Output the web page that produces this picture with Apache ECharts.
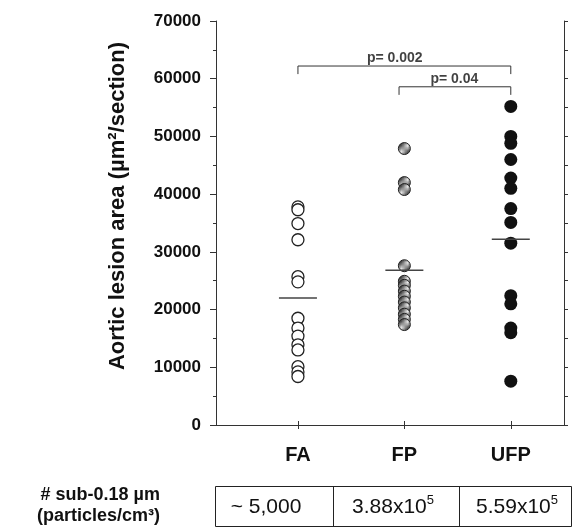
<!DOCTYPE html>
<html>
<head>
<meta charset="utf-8">
<script src="https://cdn.jsdelivr.net/npm/echarts@6/dist/echarts.min.js"></script>
<style>html,body{margin:0;padding:0;background:#fff}#chart{width:572px;height:532px}</style>
</head>
<body>
<div id="chart"></div>
<script>
var groups = ['FA', 'FP', 'UFP'];
var faValues = [37800, 37300, 34900, 32100, 25700, 24800, 18500, 16800, 15400, 13900, 13000, 10100, 9200, 8400];
var fpValues = [47900, 42000, 40800, 27600, 24900, 24200, 23200, 22300, 21300, 20300, 19200, 18300, 17400];
var ufpValues = [55200, 50000, 48800, 46000, 42800, 41000, 37500, 35100, 31500, 22400, 21000, 16800, 16000, 7600];
var groupMeans = [22000, 26800, 32200];
var particleCounts = [['~ 5,000', ''], ['3.88x10', '5'], ['5.59x10', '5']];
// significance brackets: group position from / to, height
var brackets = [
    {from: 1, to: 3, y: 62200, drop: 1400, text: 'p= 0.002', textAt: 1.91},
    {from: 1.95, to: 3, y: 58600, drop: 1400, text: 'p= 0.04', textAt: 2.47}
];

var FONT = '"Liberation Sans", Arial, Helvetica, sans-serif';

function hatchPattern() {
    var c = document.createElement('canvas');
    c.width = 4; c.height = 4;
    var ctx = c.getContext('2d');
    ctx.fillStyle = '#111';
    ctx.fillRect(0, 0, 4, 4);
    ctx.strokeStyle = '#f4f4f4';
    ctx.lineWidth = 1.2;
    ctx.beginPath();
    ctx.moveTo(0, 4); ctx.lineTo(4, 0);
    ctx.moveTo(-1, 1); ctx.lineTo(1, -1);
    ctx.moveTo(3, 5); ctx.lineTo(5, 3);
    ctx.stroke();
    return c;
}
function dotPattern() {
    var c = document.createElement('canvas');
    c.width = 5; c.height = 5;
    var ctx = c.getContext('2d');
    ctx.fillStyle = '#fff';
    ctx.fillRect(0, 0, 5, 5);
    ctx.fillStyle = '#555';
    ctx.fillRect(2, 2, 1, 1);
    return c;
}

function pts(idx, arr) {
    return arr.map(function (v) { return [idx, v]; });
}

var myChart = echarts.init(document.getElementById('chart'));

var bracketSeries = brackets.map(function (b) {
    return {
        type: 'line',
        xAxisIndex: 0, yAxisIndex: 0,
        symbol: 'none',
        silent: true,
        lineStyle: {color: '#333', width: 1},
        data: [[b.from, b.y - b.drop], [b.from, b.y], [b.to, b.y], [b.to, b.y - b.drop]],
        z: 3
    };
});

option = {
    animation: false,
    grid: {left: 216, right: 8, top: 21, bottom: 107},
    xAxis: [{
        type: 'value',
        min: 0.23, max: 3.5,
        position: 'bottom',
        splitLine: {show: false},
        axisLine: {lineStyle: {color: '#333'}},
        axisTick: {show: true, length: 4, customValues: [1, 2, 3], lineStyle: {color: '#333'}},
        axisLabel: {
            customValues: [1, 2, 3],
            margin: 20,
            fontSize: 20, fontWeight: 'bold', color: '#111', fontFamily: FONT,
            formatter: function (v) { return groups[Math.round(v) - 1]; }
        }
    }, {
        type: 'value',
        min: 0.23, max: 3.5,
        position: 'top',
        splitLine: {show: false},
        axisLine: {lineStyle: {color: '#333'}},
        axisTick: {show: true, length: 4, customValues: [1, 2, 3], lineStyle: {color: '#333'}},
        axisLabel: {show: false}
    }],
    yAxis: [{
        type: 'value',
        min: 0, max: 70000, interval: 10000,
        position: 'left',
        splitLine: {show: false},
        axisLine: {show: true, lineStyle: {color: '#333'}},
        axisTick: {show: true, length: 6, lineStyle: {color: '#333'}},
        minorTick: {show: true, splitNumber: 2, length: 3, lineStyle: {color: '#333'}},
        axisLabel: {
            margin: 15, fontSize: 17, fontWeight: 'bold', color: '#111', fontFamily: FONT,
            formatter: function (v) { return String(v); }
        }
    }, {
        type: 'value',
        min: 0, max: 70000, interval: 5000,
        position: 'right',
        splitLine: {show: false},
        axisLine: {show: true, lineStyle: {color: '#333'}},
        axisTick: {show: true, length: 4, lineStyle: {color: '#333'}},
        axisLabel: {show: false}
    }],
    graphic: [{
        type: 'text',
        x: 118, y: 206,
        rotation: Math.PI / 2,
        style: {
            text: 'Aortic lesion area (µm²/section)',
            font: 'bold 22px ' + FONT,
            fill: '#111',
            align: 'center', verticalAlign: 'middle'
        }
    }, {
        type: 'text',
        x: 160, y: 495,
        style: {text: '# sub-0.18 µm', font: 'bold 18px ' + FONT, fill: '#111', align: 'right', verticalAlign: 'middle'}
    }, {
        type: 'text',
        x: 160, y: 516,
        style: {text: '(particles/cm³)', font: 'bold 18px ' + FONT, fill: '#111', align: 'right', verticalAlign: 'middle'}
    }, {
        type: 'rect',
        shape: {x: 215.5, y: 486.5, width: 356, height: 40},
        style: {fill: 'none', stroke: '#222', lineWidth: 1}
    }, {
        type: 'line', shape: {x1: 333.5, y1: 486.5, x2: 333.5, y2: 526.5},
        style: {stroke: '#222', lineWidth: 1}
    }, {
        type: 'line', shape: {x1: 459.5, y1: 486.5, x2: 459.5, y2: 526.5},
        style: {stroke: '#222', lineWidth: 1}
    }].concat(particleCounts.map(function (p, i) {
        var cx = [266, 393, 517][i];
        return {
            type: 'text',
            x: cx, y: 506,
            style: {
                text: '{m|' + p[0] + '}' + (p[1] ? '{s|' + p[1] + '}' : ''),
                rich: {
                    m: {font: '21px ' + FONT, fill: '#111', lineHeight: 24, verticalAlign: 'bottom'},
                    s: {font: '13px ' + FONT, fill: '#111', lineHeight: 24, verticalAlign: 'top'}
                },
                align: 'center', verticalAlign: 'middle'
            }
        };
    })),
    series: [{
        type: 'scatter',
        symbolSize: 12,
        itemStyle: {color: {image: dotPattern(), repeat: 'repeat'}, borderColor: '#222', borderWidth: 1.3, opacity: 1},
        data: pts(1, faValues),
        z: 2
    }, {
        type: 'scatter',
        symbolSize: 12,
        itemStyle: {color: {image: hatchPattern(), repeat: 'repeat'}, borderColor: '#222', borderWidth: 1, opacity: 1},
        data: pts(2, fpValues),
        z: 2
    }, {
        type: 'scatter',
        symbolSize: 13,
        itemStyle: {color: '#111', opacity: 1},
        data: pts(3, ufpValues),
        z: 2
    }, {
        type: 'scatter',
        symbol: 'rect',
        symbolSize: [38, 1.5],
        itemStyle: {color: '#444', opacity: 1},
        data: groupMeans.map(function (m, i) { return [i + 1, m]; }),
        z: 4
    }].concat(bracketSeries).concat([{
        type: 'scatter',
        symbolSize: 0,
        silent: true,
        label: {
            show: true, position: 'top', distance: 1,
            formatter: function (p) { return p.data.name; },
            fontSize: 14, fontWeight: 'bold', color: '#111', fontFamily: FONT
        },
        data: brackets.map(function (b) { return {name: b.text, value: [b.textAt, b.y]}; }),
        z: 5
    }])
};
myChart.setOption(option);
</script>
</body>
</html>
